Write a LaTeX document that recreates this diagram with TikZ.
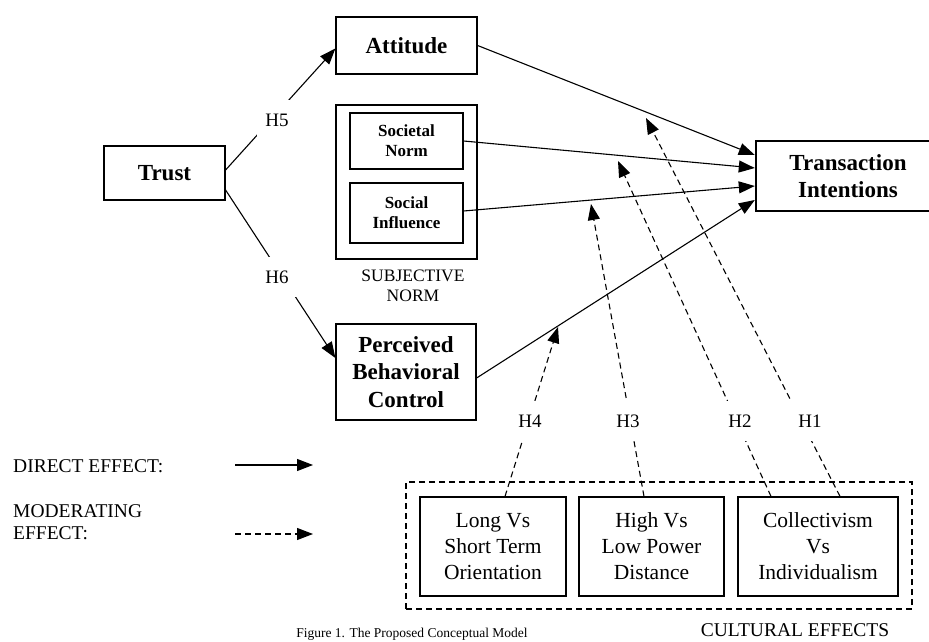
\documentclass[tikz,border=0pt]{standalone}
\usepackage{fontspec}
\setmainfont{Liberation Serif}
\usetikzlibrary{arrows.meta,calc}
\begin{document}
\begin{tikzpicture}[x=1pt,y=-1pt,
  box/.style={draw, line width=1.2pt, align=center, inner sep=0pt},
  mainfont/.style={font=\fontsize{23}{27.5}\selectfont\bfseries},
  subfont/.style={font=\fontsize{17}{20}\selectfont\bfseries},
  culfont/.style={font=\fontsize{21.5}{26}\selectfont},
  lbl/.style={font=\fontsize{17.5}{20}\selectfont, inner sep=0pt},
  leg/.style={font=\fontsize{19.5}{22}\selectfont, inner sep=0pt},
  hlab/.style={font=\fontsize{19}{20}\selectfont, fill=white, inner xsep=8pt, inner ysep=14pt},
  tip/.style={-{Triangle[length=16pt,width=12pt]}},
  direct/.style={tip, line width=1.1pt},
  moder/.style={tip, line width=1.1pt, dash pattern=on 6pt off 4pt},
]
\useasboundingbox (0,0) rectangle (929,642);

% constructs
\node[box, minimum width=121pt, minimum height=54pt, mainfont] (trust) at (164.5,173) {Trust};
\node[box, minimum width=141pt, minimum height=57pt, mainfont] (att) at (406.5,45.5) {Attitude};
\node[box, minimum width=141pt, minimum height=154pt] (sn) at (406.5,182) {};
\node[box, minimum width=113pt, minimum height=56pt, subfont] (soc) at (406.5,141) {Societal\\Norm};
\node[box, minimum width=113pt, minimum height=60pt, subfont] (inf) at (406.5,213) {Social\\Influence};
\node[lbl, align=center] (snlab) at (413,286) {SUBJECTIVE\\NORM};
\node[box, minimum width=140pt, minimum height=96pt, mainfont] (pbc) at (406,372) {Perceived\\Behavioral\\Control};
\node[box, line width=2.4pt, minimum width=184pt, minimum height=70pt, mainfont] (ti) at (848,176) {Transaction\\Intentions};

% cultural moderators
\node[draw, line width=1.1pt, dash pattern=on 6pt off 4pt, minimum width=506pt, minimum height=127pt, inner sep=0pt] (cult) at (659,545.5) {};
\node[box, minimum width=146pt, minimum height=99pt, culfont] (lto) at (493,546.5) {Long Vs\\Short Term\\Orientation};
\node[box, minimum width=145pt, minimum height=99pt, culfont] (pd) at (651.5,546.5) {High Vs\\Low Power\\Distance};
\node[box, minimum width=160pt, minimum height=99pt, culfont] (ci) at (818,546.5) {Collectivism\\Vs\\Individualism};
\node[leg] (cultlab) at (795,630) {CULTURAL EFFECTS};

% direct effects
\draw[direct] ([yshift=3pt]trust.east) -- ([yshift=-3pt]att.west);
\draw[direct] ([yshift=-17pt]trust.east) -- ([yshift=14pt]pbc.west);
\draw[direct] (att.east) -- ([yshift=21pt]ti.west);
\draw[direct] (soc.east) -- ([yshift=8pt]ti.west);
\draw[direct] ([yshift=2pt]inf.east) -- ([yshift=-10pt]ti.west);
\draw[direct] ([yshift=-6pt]pbc.east) -- ([yshift=-24pt]ti.west);

% moderating effects
\coordinate (t4) at (558,327);
\coordinate (t3) at (591,204);
\coordinate (t2) at (618,161);
\coordinate (t1) at (646,118);
\draw[moder] ([xshift=12pt]lto.north) -- (t4);
\draw[moder] ([xshift=-7.5pt]pd.north) -- (t3);
\draw[moder] ([xshift=-47pt]ci.north) -- (t2);
\draw[moder] ([xshift=22pt]ci.north) -- (t1);

% hypothesis labels
\node[hlab] (h5) at (277,120) {H5};
\node[hlab] (h6) at (277,277) {H6};
\node[hlab] (h4) at (530,421) {H4};
\node[hlab] (h3) at (628,421) {H3};
\node[hlab] (h2) at (740,421) {H2};
\node[hlab] (h1) at (810,421) {H1};

% legend
\node[leg, anchor=west] (dlab) at (13,466) {DIRECT EFFECT:};
\node[leg, anchor=west, align=left] (mlab) at (13,522) {MODERATING\\EFFECT:};
\coordinate (d1) at (235,465);
\coordinate (d2) at (313,465);
\coordinate (m1) at (235,534);
\coordinate (m2) at (313,534);
\draw[direct] (d1) -- (d2);
\draw[moder] (m1) -- (m2);

% caption
\node[font=\fontsize{13.5}{16}\selectfont, anchor=base, inner sep=0pt] (cap) at (412,637.5) {Figure 1. The Proposed Conceptual Model};
\end{tikzpicture}
\end{document}
